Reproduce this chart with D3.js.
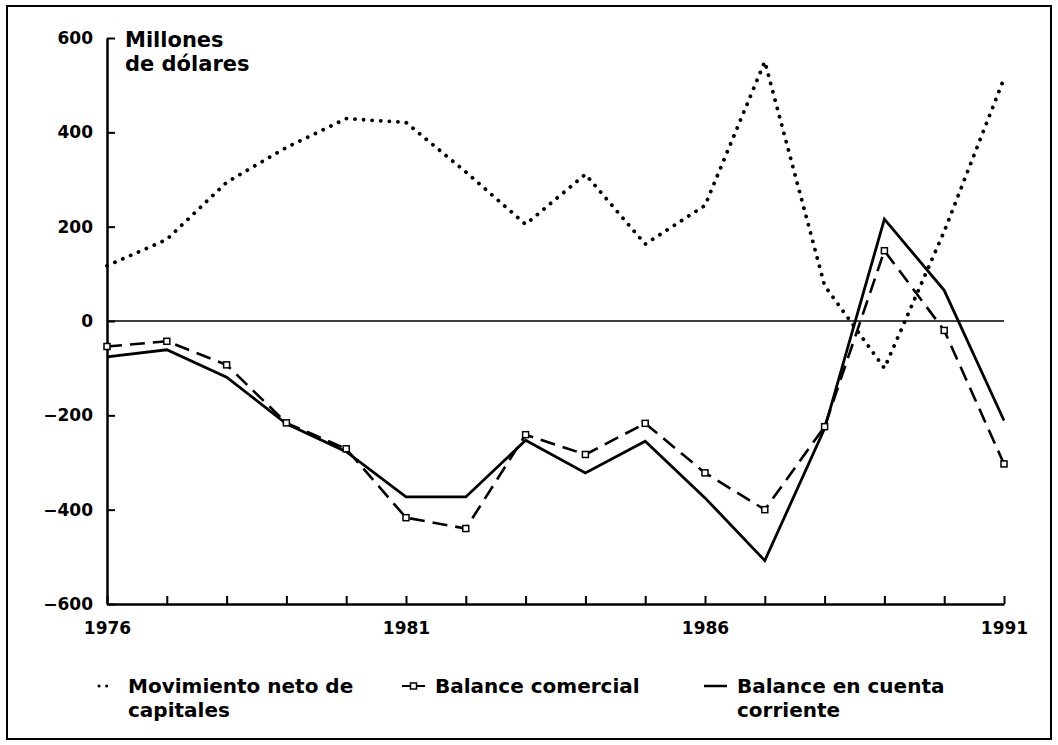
<!DOCTYPE html>
<html>
<head>
<meta charset="utf-8">
<script src="https://cdn.jsdelivr.net/npm/d3@7"></script>
<style>
  body { margin: 0; background: #fff; }
  svg text { font-family: "DejaVu Sans", sans-serif; font-weight: bold; fill: #000; }
</style>
</head>
<body>
<script>
// values (millones de dolares)
var years = [1976, 1977, 1978, 1979, 1980, 1981, 1982, 1983, 1984, 1985, 1986, 1987, 1988, 1989, 1990, 1991];
var capitales = [117, 173, 294, 368, 429, 421, 316, 205, 311, 163, 245, 550, 75, -100, 190, 514];
var comercial = [-54, -43, -93, -216, -271, -417, -440, -241, -283, -217, -322, -400, -224, 149, -20, -303];
var corriente = [-76, -61, -119, -218, -277, -373, -373, -253, -322, -255, -375, -508, -228, 216, 65, -211];
var yTicks = [-600, -400, -200, 0, 200, 400, 600];
var xLabels = [1976, 1981, 1986, 1991];

var width = 1058,
    height = 745;

var svg = d3.select("body").append("svg")
    .attr("width", width)
    .attr("height", height);

svg.append("rect")
    .attr("width", width).attr("height", height)
    .attr("fill", "#fff");

// outer frame
svg.append("rect")
    .attr("x", 7).attr("y", 6)
    .attr("width", 1044).attr("height", 733)
    .attr("fill", "none")
    .attr("stroke", "#000")
    .attr("stroke-width", 2);

var x = d3.scaleLinear().domain([1976, 1991]).range([107, 1004]);
var y = d3.scaleLinear().domain([-600, 600]).range([604, 38]);

// y axis
var yAxis = svg.append("g")
    .attr("transform", "translate(" + x(1976) + ",0)")
    .call(d3.axisLeft(y).tickValues(yTicks).tickSize(-8).tickSizeOuter(0).tickPadding(14));
yAxis.select(".domain").attr("stroke-width", 2.5);
yAxis.selectAll(".tick line").attr("stroke-width", 2);
yAxis.selectAll("text").style("font-size", "17px");

// x axis
var xAxis = svg.append("g")
    .attr("transform", "translate(0," + y(-600) + ")")
    .call(d3.axisBottom(x).tickValues(years).tickSize(-8).tickSizeOuter(0).tickPadding(18)
        .tickFormat(function(d) { return xLabels.indexOf(d) >= 0 ? d : ""; }));
xAxis.select(".domain").attr("stroke-width", 2.5);
xAxis.selectAll(".tick line").attr("stroke-width", 2);
xAxis.selectAll("text").style("font-size", "17px");

// zero line
svg.append("line")
    .attr("x1", x(1976)).attr("x2", x(1991))
    .attr("y1", y(0)).attr("y2", y(0))
    .attr("stroke", "#000")
    .attr("stroke-width", 1.5);

// y title
svg.append("text")
    .attr("x", 125).attr("y", 47)
    .style("font-size", "21px")
    .text("Millones");
svg.append("text")
    .attr("x", 125).attr("y", 71)
    .style("font-size", "21px")
    .text("de dólares");

var line = d3.line()
    .x(function(d, i) { return x(years[i]); })
    .y(function(d) { return y(d); });

svg.append("path")
    .datum(capitales)
    .attr("d", line)
    .attr("fill", "none")
    .attr("stroke", "#000")
    .attr("stroke-width", 3.8)
    .attr("stroke-linecap", "round")
    .attr("stroke-dasharray", "0.1 8.5");

svg.append("path")
    .datum(comercial)
    .attr("d", line)
    .attr("fill", "none")
    .attr("stroke", "#000")
    .attr("stroke-width", 2.6)
    .attr("stroke-dasharray", "15 8");

svg.append("path")
    .datum(corriente)
    .attr("d", line)
    .attr("fill", "none")
    .attr("stroke", "#000")
    .attr("stroke-width", 2.8);

// square markers on balance comercial
svg.append("g").selectAll("rect")
    .data(comercial)
    .enter().append("rect")
    .attr("x", function(d, i) { return x(years[i]) - 3; })
    .attr("y", function(d) { return y(d) - 3; })
    .attr("width", 6).attr("height", 6)
    .attr("fill", "#fff")
    .attr("stroke", "#000")
    .attr("stroke-width", 1.5);

// legend
var legend = svg.append("g");
var ly = 693;

legend.append("line")
    .attr("x1", 99).attr("x2", 108).attr("y1", ly - 7).attr("y2", ly - 7)
    .attr("stroke", "#000").attr("stroke-width", 3)
    .attr("stroke-linecap", "round").attr("stroke-dasharray", "0.1 7.5");
legend.append("text").attr("x", 128).attr("y", ly).style("font-size", "20px").text("Movimiento neto de");
legend.append("text").attr("x", 128).attr("y", ly + 24).style("font-size", "20px").text("capitales");

legend.append("line")
    .attr("x1", 402).attr("x2", 425).attr("y1", ly - 7).attr("y2", ly - 7)
    .attr("stroke", "#000").attr("stroke-width", 2);
legend.append("rect")
    .attr("x", 410.5).attr("y", ly - 10).attr("width", 6).attr("height", 6)
    .attr("fill", "#fff").attr("stroke", "#000").attr("stroke-width", 1.5);
legend.append("text").attr("x", 435).attr("y", ly).style("font-size", "20px").text("Balance comercial");

legend.append("line")
    .attr("x1", 704).attr("x2", 727).attr("y1", ly - 7).attr("y2", ly - 7)
    .attr("stroke", "#000").attr("stroke-width", 2.5);
legend.append("text").attr("x", 737).attr("y", ly).style("font-size", "20px").text("Balance en cuenta");
legend.append("text").attr("x", 737).attr("y", ly + 24).style("font-size", "20px").text("corriente");
</script>
</body>
</html>
